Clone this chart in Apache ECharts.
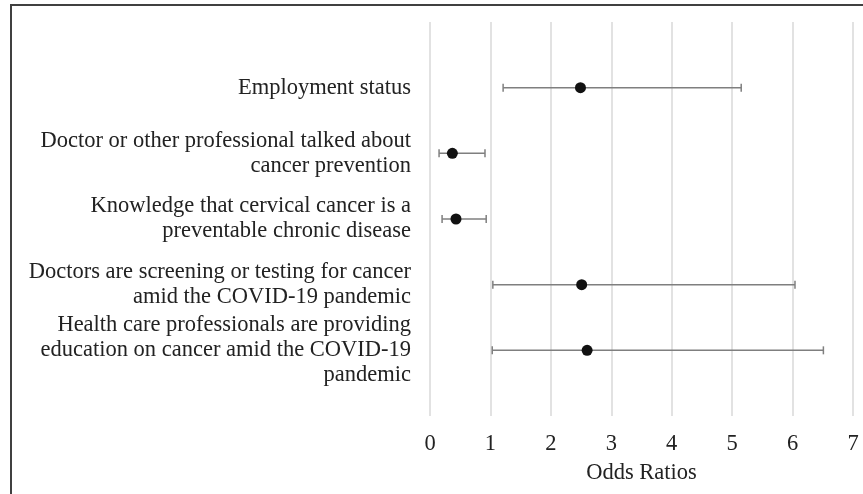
<!DOCTYPE html>
<html>
<head>
<meta charset="utf-8">
<script src="https://cdn.jsdelivr.net/npm/echarts@6/dist/echarts.min.js"></script>
<style>html,body{margin:0;padding:0;background:#fff}#c{width:863px;height:494px}</style>
</head>
<body>
<div id="c"></div>
<script>
var categories = [
  "Employment status",
  "Doctor or other professional talked about\ncancer prevention",
  "Knowledge that cervical cancer is a\npreventable chronic disease",
  "Doctors are screening or testing for cancer\namid the COVID-19 pandemic",
  "Health care professionals are providing\neducation on cancer amid the COVID-19\npandemic"
];
var oddsRatios = [2.49, 0.37, 0.43, 2.51, 2.60];
var lowerCI = [1.21, 0.15, 0.20, 1.04, 1.03];
var upperCI = [5.15, 0.91, 0.93, 6.04, 6.51];
var xTicks = [0, 1, 2, 3, 4, 5, 6, 7];

var font = "'Liberation Serif', 'Times New Roman', serif";
var chart = echarts.init(document.getElementById('c'));

var pointData = oddsRatios.map(function (v, i) { return [v, i + 1]; });
var ciData = lowerCI.map(function (lo, i) { return [lo, upperCI[i], i + 1]; });

chart.setOption({
  animation: false,
  backgroundColor: '#ffffff',
  graphic: [{
    type: 'rect',
    shape: { x: 11, y: 5, width: 870, height: 510 },
    style: { fill: 'none', stroke: '#404040', lineWidth: 2 },
    silent: true
  }],
  grid: { left: 430, right: 10, top: 22, bottom: 78 },
  xAxis: {
    type: 'value',
    min: xTicks[0],
    max: xTicks[xTicks.length - 1],
    interval: 1,
    axisLine: { show: false },
    axisTick: { show: false },
    splitLine: { show: true, lineStyle: { color: '#d9d9d9', width: 1.5 } },
    axisLabel: { margin: 17, fontFamily: font, fontSize: 22.5, color: '#222' },
    name: 'Odds Ratios',
    nameLocation: 'middle',
    nameGap: 46,
    nameTextStyle: { fontFamily: font, fontSize: 22.5, color: '#222' }
  },
  yAxis: {
    type: 'value',
    min: 0,
    max: 6,
    interval: 1,
    inverse: true,
    axisLine: { show: false },
    axisTick: { show: false },
    splitLine: { show: false },
    axisLabel: {
      margin: 19,
      fontFamily: font,
      fontSize: 22.5,
      lineHeight: 25,
      color: '#222',
      align: 'right',
      formatter: function (v) {
        var i = Math.round(v) - 1;
        return (i >= 0 && i < categories.length) ? categories[i] : '';
      }
    }
  },
  series: [{
    type: 'custom',
    data: ciData,
    renderItem: function (params, api) {
      var lo = api.coord([api.value(0), api.value(2)]);
      var hi = api.coord([api.value(1), api.value(2)]);
      var h = 4;
      var st = { stroke: '#7f7f7f', lineWidth: 1.5 };
      return {
        type: 'group',
        children: [
          { type: 'line', shape: { x1: lo[0], y1: lo[1], x2: hi[0], y2: hi[1] }, style: st },
          { type: 'line', shape: { x1: lo[0], y1: lo[1] - h, x2: lo[0], y2: lo[1] + h }, style: st },
          { type: 'line', shape: { x1: hi[0], y1: hi[1] - h, x2: hi[0], y2: hi[1] + h }, style: st }
        ]
      };
    },
    z: 2
  }, {
    type: 'scatter',
    data: pointData,
    symbol: 'circle',
    symbolSize: 11,
    itemStyle: { color: '#111111', opacity: 1 },
    emphasis: { disabled: true },
    z: 3
  }]
});
</script>
</body>
</html>
